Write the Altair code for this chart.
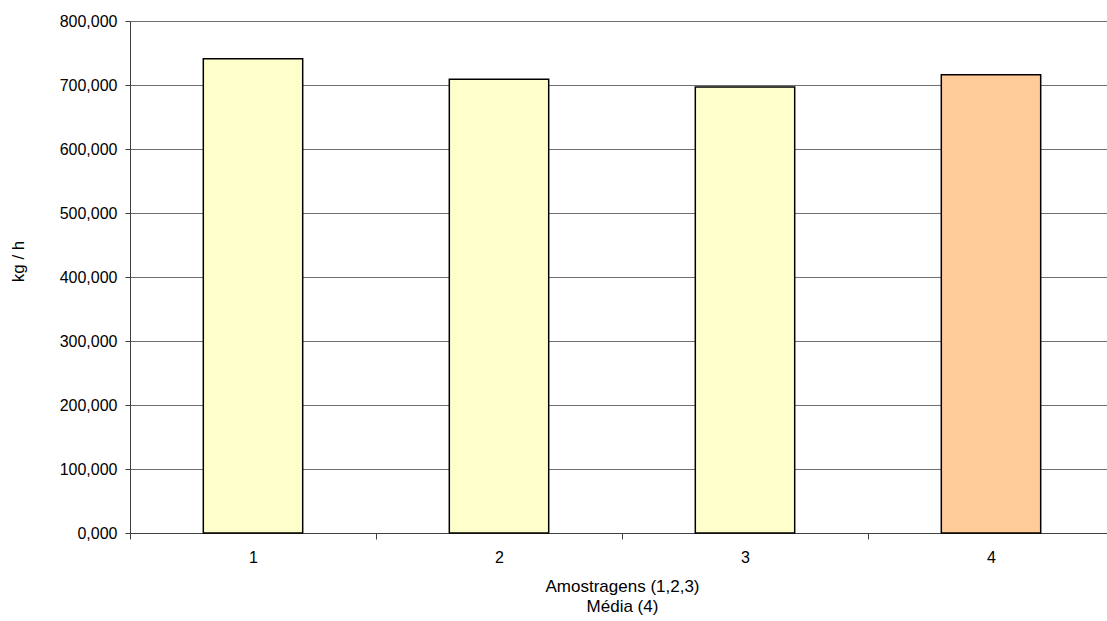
import altair as alt
import pandas as pd

# Sampling runs 1-3 and their mean (4), in kg/h
amostras = ["1", "2", "3", "4"]
valores = [741.0, 709.0, 697.0, 716.0]
tipos = ["Amostragem", "Amostragem", "Amostragem", "Média"]

cores_dominio = ["Amostragem", "Média"]
cores = ["#FFFFCC", "#FFCC99"]

y_ticks = [0, 100, 200, 300, 400, 500, 600, 700, 800]

df = pd.DataFrame({"amostra": amostras, "valor": valores, "tipo": tipos})

FONT = "Liberation Sans"
STEP = 246  # width of one category band in pixels

bars = alt.Chart(df).mark_bar(stroke="#000000", strokeWidth=1.5).encode(
    x=alt.X(
        "amostra:N",
        sort=amostras,
        scale=alt.Scale(range=[0, 4 * STEP], paddingInner=0.596, paddingOuter=0.298),
        axis=alt.Axis(
            title=["Amostragens (1,2,3)", "Média (4)"],
            labelAngle=0,
            tickOffset=-STEP / 2,
            labelOffset=STEP / 2,
            tickSize=6,
            labelPadding=10,
            labelFontSize=16,
            titleFontSize=17,
            titleFontWeight="normal",
            titleLineHeight=20,
            titleY=45,
            titleBaseline="top",
            domainColor="#404040",
            tickColor="#404040",
            labelColor="#000000",
            titleColor="#000000",
            labelFont=FONT,
            titleFont=FONT,
            grid=False,
        ),
    ),
    y=alt.Y(
        "valor:Q",
        scale=alt.Scale(domain=[0, 800], nice=False),
        axis=alt.Axis(
            title="kg / h",
            values=y_ticks,
            labelExpr="replace(format(datum.value, '.3f'), '.', ',')",
            tickSize=5,
            labelPadding=8,
            labelFontSize=16,
            titleFontSize=17,
            titleFontWeight="normal",
            titleX=-112,
            titleY=240,
            titleAlign="center",
            titleBaseline="middle",
            domainColor="#404040",
            tickColor="#404040",
            gridColor="#6e6e6e",
            gridWidth=1,
            labelColor="#000000",
            titleColor="#000000",
            labelFont=FONT,
            titleFont=FONT,
        ),
    ),
    color=alt.Color(
        "tipo:N",
        scale=alt.Scale(domain=cores_dominio, range=cores),
        legend=None,
    ),
)

chart = bars.properties(
    width=977,
    height=512,
    autosize=alt.AutoSizeParams(type="none"),
    padding={"left": 130, "top": 21, "right": 0, "bottom": 88},
    background="#ffffff",
).configure_view(stroke=None)

chart.save("out.html", embed_options={"renderer": "svg", "actions": False})
